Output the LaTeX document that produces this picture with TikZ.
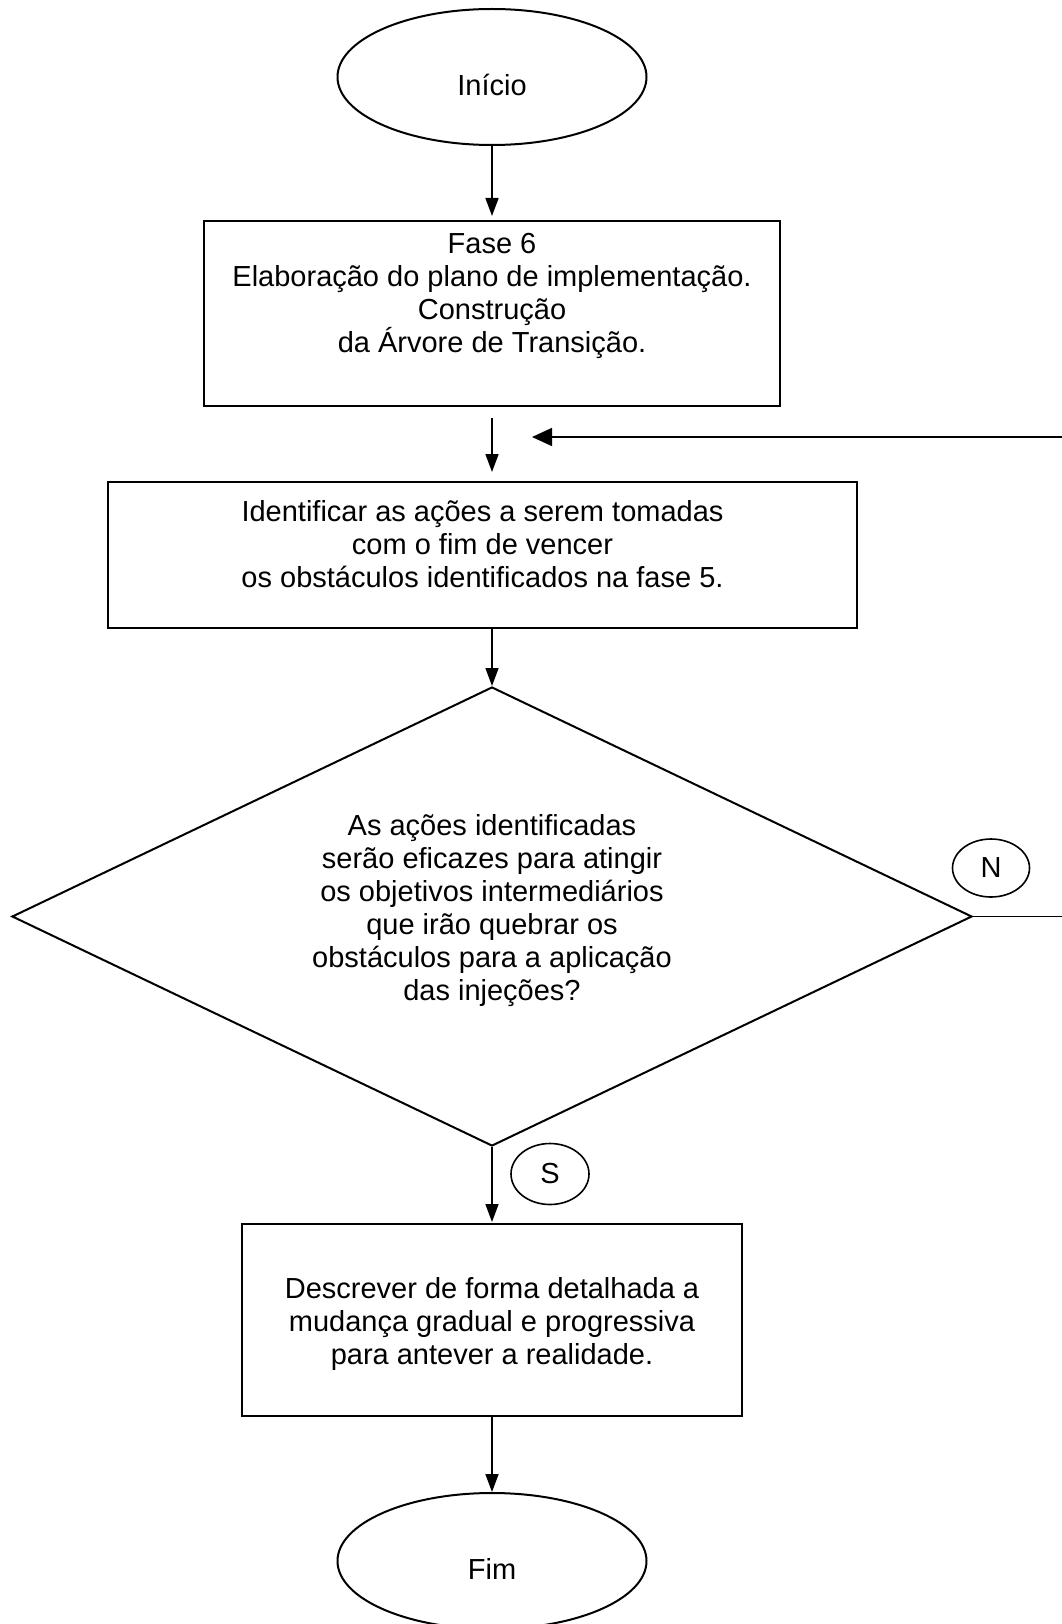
\documentclass[tikz,border=0pt]{standalone}
\usepackage{fontspec}
\setmainfont{Liberation Sans}
\usetikzlibrary{shapes.geometric,arrows.meta}
\begin{document}
\begin{tikzpicture}[x=1pt,y=-1pt,
  every node/.style={font=\fontsize{29}{33}\selectfont},
  shapeline/.style={draw=black,line width=2pt},
  box/.style={shapeline,rectangle,inner sep=0pt},
  term/.style={shapeline,ellipse,inner sep=0pt,minimum width=309pt,minimum height=136pt},
  decision/.style={shapeline,diamond,inner sep=0pt,minimum width=960pt,minimum height=459pt},
  tag/.style={draw=black,line width=1.6pt,ellipse,inner sep=0pt},
  txt/.style={align=center,inner sep=0pt,font=\fontsize{29}{33}\selectfont},
  flow/.style={draw=black,line width=1.6pt,-{Triangle[length=18pt,width=13pt]}},
  back/.style={draw=black,line width=1.6pt,-{Triangle[length=20pt,width=18pt]}}]
\useasboundingbox (0,0) rectangle (1062,1624);

% terminals, process boxes and the decision
\node[term, label={[txt,yshift=-8pt]center:Início}] (start) at (492,77) {};
\node[box, minimum width=576pt, minimum height=185pt,
  label={[txt,yshift=17.5pt]center:Fase 6\\Elaboração do plano de implementação.\\Construção\\da Árvore de Transição.}]
  (box1) at (492,313.5) {};
\node[box, minimum width=749pt, minimum height=146pt,
  label={[txt,yshift=11pt]center:Identificar as ações a serem tomadas\\com o fim de vencer\\os obstáculos identificados na fase 5.}]
  (box2) at (482.5,555) {};
\node[decision,
  label={[txt,yshift=6pt]center:As ações identificadas\\serão eficazes para atingir\\os objetivos intermediários\\que irão quebrar os\\obstáculos para a aplicação\\das injeções?}]
  (dec) at (492,916.5) {};
\node[box, minimum width=500pt, minimum height=192pt,
  label={[txt,yshift=-4pt]center:Descrever de forma detalhada a\\mudança gradual e progressiva\\para antever a realidade.}]
  (box3) at (492,1320) {};
\node[term, label={[txt,yshift=-8pt]center:Fim}] (fim) at (492,1561) {};

% branch tags
\node[tag, minimum width=77pt, minimum height=58pt] (ntag) at (991,868) {N};
\node[tag, minimum width=78pt, minimum height=61pt] (stag) at (550,1174) {S};

% connectors
\draw[flow, shorten >=4pt] (start.south) -- (box1.north);
\draw[flow, shorten <=11pt, shorten >=9pt] (box1.south) -- (box1.south |- box2.north);
\draw[flow] (box2.south -| dec.north) -- (dec.north);
\draw[flow, shorten >=1pt] (dec.south) -- (box3.north);
\draw[flow] (box3.south) -- (fim.north);

% "N" branch loops back above the action box
\coordinate (rim) at (1075,437);
\coordinate (entry) at (532,437);
\draw[back] (dec.east) -- (dec.east -| rim) -- (rim) -- (entry);
\end{tikzpicture}
\end{document}
